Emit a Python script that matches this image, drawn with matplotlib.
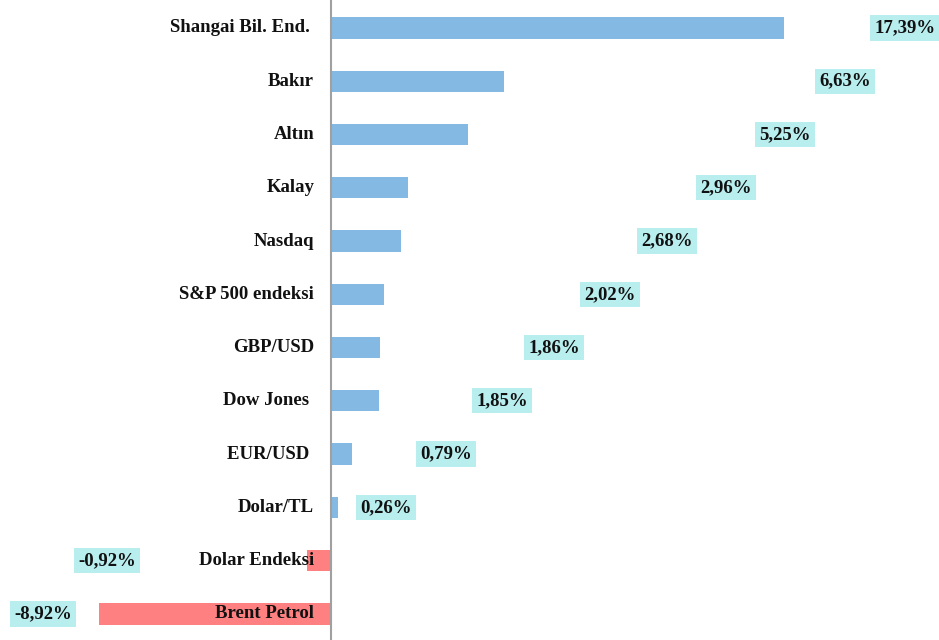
import matplotlib.pyplot as plt
import numpy as np

names = ['Shangai Bil. End. ', 'Bakır', 'Altın', 'Kalay', 'Nasdaq', 'S&P 500 endeksi',
         'GBP/USD', 'Dow Jones ', 'EUR/USD ', 'Dolar/TL', 'Dolar Endeksi', 'Brent Petrol']
changes = [17.39, 6.63, 5.25, 2.96, 2.68, 2.02, 1.86, 1.85, 0.79, 0.26, -0.92, -8.92]
# where the value boxes were dragged to in the original sheet
label_x = [22.03, 19.73, 17.43, 15.16, 12.9, 10.71, 8.56, 6.56, 4.41, 2.11, -8.6, -11.06]

plt.rcParams['font.family'] = ['Liberation Serif', 'DejaVu Serif']

fig = plt.figure(figsize=(9.39, 6.4), dpi=100)
ax = fig.add_axes([0, 0, 1, 1])

y = np.arange(len(names))
colors = ['#83b9e3' if v >= 0 else '#ff8080' for v in changes]
ax.barh(y, changes, height=0.4, color=colors)

for i in range(len(names)):
    ax.text(-0.65, y[i], names[i], ha='right', va='center', fontsize=13.5,
            fontweight='bold', color='#111111')
    txt = ('%.2f' % changes[i]).replace('.', ',') + '%'
    ax.text(label_x[i], y[i], txt, ha='center', va='center', fontsize=13.5,
            fontweight='bold', color='#111111',
            bbox=dict(boxstyle='square,pad=0.22', fc='#b9eeef', ec='none'))

ax.axvline(0, color='#a0a0a0', lw=1.5)
ax.set_xlim(-12.71, 23.34)
ax.set_ylim(11.49, -0.525)
ax.axis('off')

fig.savefig('out.png', dpi=100)
